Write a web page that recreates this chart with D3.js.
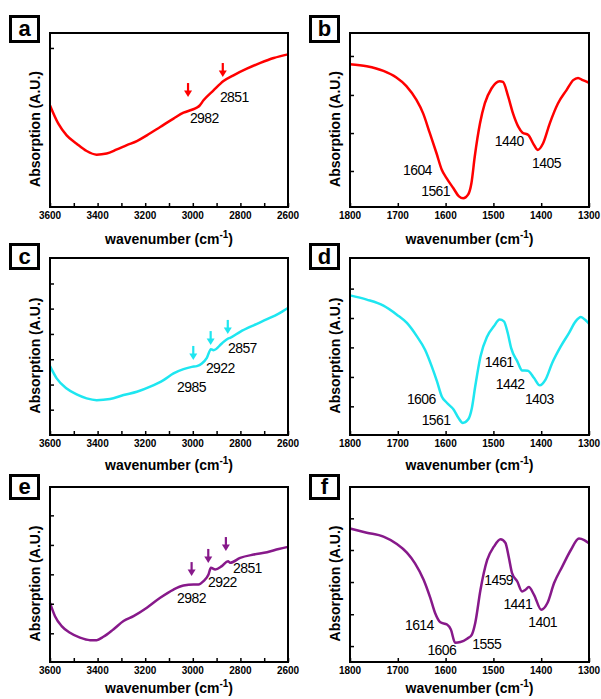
<!DOCTYPE html>
<html>
<head>
<meta charset="utf-8">
<script src="https://cdn.jsdelivr.net/npm/d3@7"></script>
<style>
body { margin: 0; background: #fff; }
svg text { font-family: Arial, "Liberation Sans", sans-serif; fill: #000; }
</style>
</head>
<body>
<svg id="chart" width="601" height="699"></svg>
<script>
// ---- data (absorption in % of panel height) ----
var wnA = [3600,3565,3530,3488,3446,3404,3362,3319,3277,3235,3193,3137,3081,3039,3004,2983,2972,2955,2913,2871,2829,2773,2716,2660,2600];
var absA = [58.4,47.9,41.2,36.4,32.2,30.1,30.7,33.1,35.6,37.9,41.2,46.0,50.8,54.2,55.9,57.1,58.2,61.3,67.0,72.4,75.7,79.5,82.8,85.6,87.7];

var wnB = [1800,1765,1730,1703,1682,1661,1647,1633,1619,1608,1598,1584,1572,1563,1553,1546,1539,1528,1518,1504,1487,1480,1469,1459,1448,1439,1427,1417,1407,1396,1382,1365,1347,1333,1323,1313,1300];
var absB = [82.1,80.9,78.2,74.4,69.5,61.5,53.8,42.4,30.9,21.4,16.6,10.9,6.1,5.0,7.1,13.7,29.0,48.1,59.5,68.1,72.3,71.9,63.4,53.8,46.2,42.7,41.4,36.6,32.8,36.6,48.1,59.5,67.2,72.9,74.2,72.9,71.4];

var wnC = [3600,3572,3530,3488,3446,3404,3348,3291,3235,3179,3123,3081,3039,3004,2983,2962,2941,2924,2913,2878,2852,2843,2801,2744,2688,2639,2600];
var absC = [38.9,32.0,26.3,22.9,20.7,19.7,20.3,22.6,24.4,27.3,31.0,34.8,37.2,38.5,38.9,40.4,43.6,48.5,47.9,51.7,54.5,54.9,58.3,62.0,65.4,68.6,71.8];

var wnD = [1800,1765,1730,1702,1681,1660,1643,1629,1618,1608,1597,1583,1573,1564,1553,1545,1538,1527,1513,1499,1487,1478,1470,1463,1450,1440,1428,1415,1403,1391,1377,1359,1342,1328,1317,1307,1300];
var absD = [78.9,76.5,73.1,68.0,63.3,55.7,48.2,38.8,30.3,21.8,18.1,14.3,9.6,6.8,8.7,15.3,27.5,44.4,55.7,61.4,65.2,64.2,57.6,49.2,41.6,36.5,36.3,32.2,28.1,31.3,40.7,50.1,57.6,64.2,66.7,64.8,62.9];

var wnE = [3600,3579,3551,3516,3474,3432,3404,3376,3334,3291,3249,3193,3137,3081,3039,2997,2976,2955,2934,2924,2906,2878,2852,2843,2801,2744,2688,2639,2600];
var absE = [33.8,26.2,20.5,16.7,13.9,12.5,12.5,14.4,18.6,23.4,26.2,31.0,36.7,41.4,43.7,44.3,44.3,46.2,50.0,53.8,52.9,54.8,57.6,56.7,59.5,61.4,62.7,64.6,65.8];

var wnF = [1800,1765,1730,1702,1681,1664,1646,1632,1622,1611,1597,1589,1580,1569,1555,1545,1538,1527,1513,1499,1485,1475,1468,1461,1450,1440,1433,1426,1415,1400,1387,1373,1356,1338,1321,1310,1300];
var absF = [76.3,73.9,71.6,67.4,62.5,56.4,47.0,36.6,28.0,22.7,21.4,18.6,11.0,11.4,13.3,15.7,22.3,41.3,58.3,65.9,70.1,68.2,60.2,50.8,46.0,40.3,41.3,42.8,38.4,29.9,33.7,45.1,54.5,64.0,70.6,69.7,67.8];

// unlabeled y ticks
var yTicksA = [91.4];
var yTicksB = [20.7, 42.5, 64.4, 86.8];
var yTicksC = [14.3, 28.5, 42.8, 57.1, 71.4, 85.6];
var yTicksD = [16.2, 32.8, 49.5, 66.1, 82.7];
var yTicksE = [16.4, 33.3, 50.1, 66.9, 83.8];
var yTicksF = [9.1, 27.3, 45.7, 64.0, 82.1];

// x tick labels
var xLabelsHigh = [3600, 3400, 3200, 3000, 2800, 2600];
var xLabelsLow = [1800, 1700, 1600, 1500, 1400, 1300];

// peak annotations: text, wavenumber anchor, absorption anchor
var peakTextA = ['2982', '2851'];
var peakWnA = [3012, 2886];
var peakAbsA = [48.3, 60.3];
var peakTextB = ['1604', '1561', '1440', '1405'];
var peakWnB = [1689, 1651, 1497, 1419];
var peakAbsB = [18.4, 6.3, 35.1, 22.4];
var peakTextC = ['2857', '2922', '2985'];
var peakWnC = [2852, 2945, 3066];
var peakAbsC = [46.3, 35.0, 24.3];
var peakTextD = ['1606', '1561', '1461', '1442', '1403'];
var peakWnD = [1681, 1650, 1518, 1495, 1434];
var peakAbsD = [17.5, 5.6, 38.4, 26.0, 17.5];
var peakTextE = ['2851', '2922', '2982'];
var peakWnE = [2831, 2936, 3066];
var peakAbsE = [50.9, 42.9, 33.7];
var peakTextF = ['1614', '1606', '1555', '1459', '1441', '1401'];
var peakWnF = [1685, 1638, 1544, 1519, 1479, 1427];
var peakAbsF = [18.3, 4.0, 7.4, 44.0, 30.3, 20.0];

// arrow markers (tip position)
var arrowWnA = [3020, 2874];
var arrowAbsA = [63.2, 74.7];
var arrowWnC = [2998, 2925, 2853];
var arrowAbsC = [42.4, 50.8, 57.1];
var arrowWnE = [3005, 2935, 2861];
var arrowAbsE = [49.1, 56.6, 63.4];

// ---- layout ----
var cols = [{left: 50, right: 288, domain: [3600, 2600], labels: xLabelsHigh},
            {left: 350, right: 589, domain: [1800, 1300], labels: xLabelsLow}];
var rows = [{top: 33, bottom: 207, title: 244, box: 15, boxH: 28},
            {top: 258, bottom: 435, title: 470, box: 243, boxH: 27},
            {top: 487, bottom: 662, title: 693, box: 474, boxH: 26}];

var red = '#ff0000', cyan = '#1ee6f0', purple = '#87198a';

var panels = [
    {id: 'a', col: 0, row: 0, color: red, wn: wnA, abs: absA, yt: yTicksA, pt: peakTextA, pw: peakWnA, pa: peakAbsA, aw: arrowWnA, aa: arrowAbsA},
    {id: 'b', col: 1, row: 0, color: red, wn: wnB, abs: absB, yt: yTicksB, pt: peakTextB, pw: peakWnB, pa: peakAbsB, aw: [], aa: []},
    {id: 'c', col: 0, row: 1, color: cyan, wn: wnC, abs: absC, yt: yTicksC, pt: peakTextC, pw: peakWnC, pa: peakAbsC, aw: arrowWnC, aa: arrowAbsC},
    {id: 'd', col: 1, row: 1, color: cyan, wn: wnD, abs: absD, yt: yTicksD, pt: peakTextD, pw: peakWnD, pa: peakAbsD, aw: [], aa: []},
    {id: 'e', col: 0, row: 2, color: purple, wn: wnE, abs: absE, yt: yTicksE, pt: peakTextE, pw: peakWnE, pa: peakAbsE, aw: arrowWnE, aa: arrowAbsE},
    {id: 'f', col: 1, row: 2, color: purple, wn: wnF, abs: absF, yt: yTicksF, pt: peakTextF, pw: peakWnF, pa: peakAbsF, aw: [], aa: []}
];

var svg = d3.select('#chart');
svg.append('rect').attr('width', 601).attr('height', 699).attr('fill', '#fff');

panels.forEach(function (p) {
    var c = cols[p.col], r = rows[p.row];
    var x = d3.scaleLinear().domain(c.domain).range([c.left, c.right]);
    var y = d3.scaleLinear().domain([0, 100]).range([r.bottom, r.top]);
    var g = svg.append('g').attr('class', 'panel-' + p.id);

    // spectrum
    var line = d3.line()
        .x(function (d) { return x(d[0]); })
        .y(function (d) { return y(d[1]); })
        .curve(d3.curveMonotoneX);
    g.append('path')
        .datum(d3.zip(p.wn, p.abs))
        .attr('d', line)
        .attr('fill', 'none')
        .attr('stroke', p.color)
        .attr('stroke-width', 2.5)
        .attr('stroke-linejoin', 'round');

    // bottom axis: inward ticks every 100
    var lo = Math.min(c.domain[0], c.domain[1]), hi = Math.max(c.domain[0], c.domain[1]);
    var xAxis = d3.axisTop(x)
        .tickValues(d3.range(lo, hi + 1, 100))
        .tickSize(4)
        .tickFormat('');
    g.append('g')
        .attr('transform', 'translate(0,' + r.bottom + ')')
        .call(xAxis)
        .call(function (s) { s.select('.domain').remove(); })
        .selectAll('line').attr('stroke', '#000').attr('stroke-width', 1.5);

    g.selectAll('text.xlab')
        .data(c.labels)
        .enter().append('text')
        .attr('class', 'xlab')
        .attr('x', function (d) { return x(d); })
        .attr('y', r.bottom + 12)
        .attr('text-anchor', 'middle')
        .style('font-size', '10px')
        .style('font-weight', 'bold')
        .text(function (d) { return d; });

    // left axis: inward unlabeled ticks
    var yAxis = d3.axisRight(y).tickValues(p.yt).tickSize(4).tickFormat('');
    g.append('g')
        .attr('transform', 'translate(' + c.left + ',0)')
        .call(yAxis)
        .call(function (s) { s.select('.domain').remove(); })
        .selectAll('line').attr('stroke', '#000').attr('stroke-width', 1.5);

    // frame
    g.append('rect')
        .attr('x', c.left).attr('y', r.top)
        .attr('width', c.right - c.left).attr('height', r.bottom - r.top)
        .attr('fill', 'none').attr('stroke', '#000').attr('stroke-width', 2);

    // axis titles
    var xt = g.append('text')
        .attr('x', (c.left + c.right) / 2)
        .attr('y', r.title)
        .attr('text-anchor', 'middle')
        .style('font-size', '14px')
        .style('font-weight', 'bold');
    xt.append('tspan').text('wavenumber (cm');
    xt.append('tspan').attr('dy', -6).style('font-size', '10px').text('-1');
    xt.append('tspan').attr('dy', 6).text(')');

    g.append('text')
        .attr('transform', 'translate(' + (c.left - 10) + ',' + ((r.top + r.bottom) / 2 + 9) + ') rotate(-90)')
        .attr('text-anchor', 'middle')
        .style('font-size', '14px')
        .style('font-weight', 'bold')
        .text('Absorption (A.U.)');

    // panel letter box
    g.append('rect')
        .attr('x', c.left - 39.5).attr('y', r.box + 1.5)
        .attr('width', 28).attr('height', r.boxH - 3)
        .attr('fill', '#fff').attr('stroke', '#000').attr('stroke-width', 3);
    g.append('text')
        .attr('x', c.left - 25.5)
        .attr('y', r.box + r.boxH / 2 + 7)
        .attr('text-anchor', 'middle')
        .style('font-size', '22px')
        .style('font-weight', 'bold')
        .text(p.id);

    // peak labels
    g.selectAll('text.peak')
        .data(p.pt)
        .enter().append('text')
        .attr('class', 'peak')
        .attr('x', function (d, i) { return x(p.pw[i]); })
        .attr('y', function (d, i) { return y(p.pa[i]); })
        .style('font-size', '14px')
        .style('letter-spacing', '-0.6px')
        .text(function (d) { return d; });

    // down arrows
    var arrows = g.selectAll('g.arrow')
        .data(d3.zip(p.aw, p.aa))
        .enter().append('g')
        .attr('class', 'arrow')
        .attr('transform', function (d) { return 'translate(' + x(d[0]) + ',' + y(d[1]) + ')'; });
    arrows.append('line')
        .attr('x1', 0).attr('x2', 0).attr('y1', -14).attr('y2', -5)
        .attr('stroke', p.color).attr('stroke-width', 2.2);
    arrows.append('path')
        .attr('d', 'M-4,-6.5L4,-6.5L0,0Z')
        .attr('fill', p.color);
});
</script>
</body>
</html>
